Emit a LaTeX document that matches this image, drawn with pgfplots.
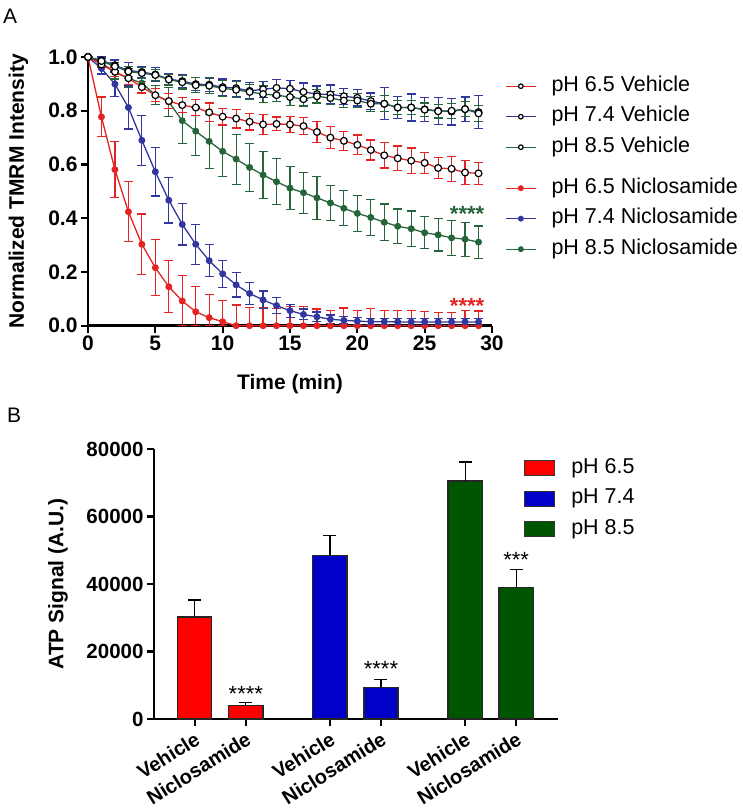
\documentclass[border=0pt]{standalone}
\usepackage{fontspec}
\setmainfont{Liberation Sans}
\usepackage{pgfplots}
\pgfplotsset{compat=1.18}
\definecolor{cR}{RGB}{228,35,35}
\definecolor{cB}{RGB}{50,55,160}
\definecolor{cG}{RGB}{38,100,58}
\definecolor{bR}{RGB}{255,0,0}
\definecolor{bB}{RGB}{0,0,200}
\definecolor{bG}{RGB}{0,85,0}
\newcommand{\fs}[1]{\fontsize{#1}{#1}\selectfont}
\pgfplotsset{
  veh/.style={line width=1.3pt, mark=*, mark size=3.4pt, mark options={solid, fill=white, draw=black, line width=1.2pt}},
  nic/.style={line width=1.3pt, mark=*, mark size=2.8pt, mark options={solid}},
  eb/.style={error bars/y dir=both, error bars/y explicit,
     error bars/error bar style={line width=1.2pt, color=#1},
     error bars/error mark options={rotate=90, mark size=4.5pt, line width=1.2pt, color=#1, draw=#1}},
  lineleg/.style={legend image code/.code={\draw[##1, mark size=2.3pt, mark repeat=2, mark phase=2] plot coordinates {(0pt,0pt) (15pt,0pt) (30pt,0pt)};}},
  boxleg/.style={legend image code/.code={\draw[##1, line width=1pt, draw=black!80] (0pt,-7.5pt) rectangle (30pt,7.5pt);}},
  legA/.style={legend style={at={(axis description cs:1.0322,#1)}, anchor=north west, draw=none, fill=none, font=\fs{21.5}, row sep=12.5pt, inner sep=0pt, nodes={inner sep=0pt, text height=14pt, text depth=4pt}, /tikz/every odd column/.append style={column sep=15pt}}, legend cell align=left},
  geoA/.style={at={(88pt,-325.7pt)}, anchor=south west, scale only axis, width=404pt, height=268.7pt, xmin=0, xmax=30, ymin=0, ymax=1},
}
\begin{document}
\begin{tikzpicture}
\path[use as bounding box] (0pt,0pt) rectangle (743pt,-812pt);
\node[anchor=north west, inner sep=0pt, font=\fs{21}] at (3pt,-9pt) {A};
\node[anchor=north west, inner sep=0pt, font=\fs{21}] at (7pt,-408pt) {B};

% ---------------- Panel A ----------------
\begin{axis}[geoA,
  axis lines=left, axis line style={line width=2.6pt, -},
  xtick={0,5,10,15,20,25,30}, ytick={0,0.2,0.4,0.6,0.8,1.0},
  tick align=outside, major tick length=7pt, tick style={line width=2.2pt, black},
  tick label style={font=\bfseries\fs{21}},
  /pgf/number format/assume math mode=true,
  yticklabel style={/pgf/number format/.cd, fixed, fixed zerofill, precision=1},
  xlabel={Time (min)}, ylabel={Normalized TMRM Intensity},
  label style={font=\bfseries\fs{21}},
  xlabel style={at={(axis description cs:0.5,-0.217)}, anchor=center},
  ylabel style={at={(axis description cs:-0.172,0.5)}, anchor=center},
  clip=false, lineleg, legA=0.9256]

% Niclosamide (drawn first, not in this legend)
\addplot[nic, cR, forget plot, error bars/y dir=both, error bars/y explicit,
     error bars/error bar style={line width=1.2pt, color=cR},
     error bars/error mark options={rotate=90, mark size=4.5pt, line width=1.2pt, color=cR, draw=cR}]
 table[x=t, y=v, y error plus=ep, y error minus=em] {
t v ep em
0 1.000 0 0
1 0.777 0.074 0.074
2 0.581 0.105 0.105
3 0.424 0.112 0.112
4 0.303 0.113 0.113
5 0.216 0.105 0.105
6 0.145 0.097 0.097
7 0.092 0.096 0.092
8 0.052 0.093 0.052
9 0.030 0.087 0.030
10 0.015 0.080 0.015
11 0 0.077 0
12 0 0.068 0
13 0 0.068 0
14 0 0.065 0
15 0 0.070 0
16 0 0.070 0
17 0 0.062 0
18 0 0.058 0
19 0 0.066 0
20 0 0.058 0
21 0 0.064 0
22 0 0.056 0
23 0 0.056 0
24 0 0.058 0
25 0 0.052 0
26 0 0.050 0
27 0 0.050 0
28 0 0.056 0
29 0 0.055 0
};
\addplot[nic, cB, forget plot, eb=cB] table[x=t, y=v, y error=e] {
t v e
0 1.000 0
1 0.957 0.02
2 0.899 0.045
3 0.812 0.08
4 0.690 0.093
5 0.573 0.09
6 0.467 0.085
7 0.377 0.077
8 0.303 0.074
9 0.242 0.06
10 0.193 0.05
11 0.152 0.045
12 0.120 0.04
13 0.096 0.033
14 0.075 0.03
15 0.056 0.024
16 0.042 0.02
17 0.033 0.018
18 0.024 0.016
19 0.020 0.014
20 0.017 0.013
21 0.015 0.012
22 0.015 0.012
23 0.014 0.012
24 0.014 0.012
25 0.014 0.012
26 0.014 0.012
27 0.014 0.012
28 0.014 0.012
29 0.014 0.012
};
\addplot[nic, cG, forget plot, eb=cG] table[x=t, y=v, y error=e] {
t v e
0 1.000 0
1 0.978 0.015
2 0.943 0.025
3 0.921 0.035
4 0.903 0.04
5 0.859 0.035
6 0.833 0.055
7 0.763 0.085
8 0.724 0.09
9 0.686 0.1
10 0.649 0.095
11 0.620 0.093
12 0.589 0.09
13 0.561 0.087
14 0.536 0.085
15 0.512 0.08
16 0.495 0.076
17 0.476 0.08
18 0.457 0.065
19 0.437 0.065
20 0.418 0.068
21 0.403 0.068
22 0.385 0.068
23 0.370 0.064
24 0.361 0.066
25 0.346 0.06
26 0.338 0.06
27 0.327 0.065
28 0.322 0.063
29 0.311 0.06
};

% Vehicles
\addplot[veh, cR, eb=cR] table[x=t, y=v, y error=e] {
t v e
0 1.000 0
1 0.972 0.012
2 0.945 0.018
3 0.921 0.022
4 0.888 0.022
5 0.858 0.025
6 0.836 0.027
7 0.821 0.027
8 0.812 0.03
9 0.794 0.035
10 0.778 0.031
11 0.771 0.035
12 0.759 0.031
13 0.749 0.038
14 0.751 0.026
15 0.749 0.03
16 0.743 0.031
17 0.721 0.04
18 0.700 0.04
19 0.688 0.035
20 0.673 0.037
21 0.654 0.037
22 0.634 0.047
23 0.623 0.046
24 0.614 0.047
25 0.606 0.04
26 0.587 0.04
27 0.584 0.047
28 0.570 0.045
29 0.567 0.04
};
\addlegendentry{pH 6.5 Vehicle}
\addplot[veh, cB, eb=cB] table[x=t, y=v, y error=e] {
t v e
0 1.000 0
1 0.988 0.012
2 0.969 0.02
3 0.950 0.03
4 0.944 0.022
5 0.935 0.025
6 0.918 0.02
7 0.910 0.025
8 0.899 0.025
9 0.897 0.025
10 0.888 0.03
11 0.884 0.03
12 0.874 0.03
13 0.880 0.03
14 0.885 0.03
15 0.882 0.03
16 0.870 0.033
17 0.862 0.03
18 0.861 0.035
19 0.854 0.03
20 0.848 0.03
21 0.836 0.03
22 0.826 0.06
23 0.812 0.04
24 0.812 0.05
25 0.805 0.045
26 0.800 0.05
27 0.797 0.05
28 0.806 0.045
29 0.795 0.062
};
\addlegendentry{pH 7.4 Vehicle}
\addplot[veh, cG, eb=cG] table[x=t, y=v, y error=e] {
t v e
0 1.000 0
1 0.985 0.01
2 0.965 0.015
3 0.946 0.018
4 0.940 0.02
5 0.933 0.02
6 0.916 0.02
7 0.906 0.025
8 0.895 0.028
9 0.893 0.03
10 0.883 0.03
11 0.878 0.03
12 0.870 0.028
13 0.862 0.03
14 0.858 0.025
15 0.851 0.03
16 0.843 0.025
17 0.854 0.025
18 0.847 0.025
19 0.838 0.025
20 0.838 0.025
21 0.826 0.028
22 0.826 0.03
23 0.812 0.025
24 0.812 0.025
25 0.804 0.025
26 0.798 0.025
27 0.800 0.028
28 0.806 0.028
29 0.790 0.03
};
\addlegendentry{pH 8.5 Vehicle}

\node[anchor=base, text=cG, font=\bfseries\fs{22}, inner sep=0pt] at (axis cs:28.15,0.387) {****};
\node[anchor=base, text=cR, font=\bfseries\fs{22}, inner sep=0pt] at (axis cs:28.15,0.046) {****};
\end{axis}

% second legend group for panel A
\begin{axis}[geoA, hide axis, lineleg, legA=0.546]
\addlegendimage{nic, cR}
\addlegendentry{pH 6.5 Niclosamide}
\addlegendimage{nic, cB}
\addlegendentry{pH 7.4 Niclosamide}
\addlegendimage{nic, cG}
\addlegendentry{pH 8.5 Niclosamide}
\end{axis}

% ---------------- Panel B ----------------
\begin{axis}[at={(154pt,-719pt)}, anchor=south west, scale only axis, width=404pt, height=270pt,
  xmin=-0.8, xmax=7.12, ymin=0, ymax=80000,
  axis lines=left, axis line style={line width=2.4pt, -},
  xtick={0,1,2.65,3.65,5.3,6.3},
  xticklabels={Vehicle,Niclosamide,Vehicle,Niclosamide,Vehicle,Niclosamide},
  ytick={0,20000,40000,60000,80000}, scaled y ticks=false,
  tick align=outside, major tick length=7pt, tick style={line width=2.2pt, black},
  tick label style={font=\bfseries\fs{20.5}},
  xticklabel style={rotate=32, anchor=north east, font=\bfseries\fs{20}},
  /pgf/number format/assume math mode=true,
  yticklabel style={/pgf/number format/1000 sep={}},
  ylabel={ATP Signal (A.U.)}, label style={font=\bfseries\fs{21}},
  ylabel style={at={(axis description cs:-0.2376,0.5)}, anchor=center},
  bar width=0.67, clip=false, boxleg,
  legend style={at={(axis description cs:0.916,0.963)}, anchor=north west, draw=none, fill=none, font=\fs{21.5}, row sep=12.5pt, inner sep=0pt, nodes={inner sep=0pt, text height=14pt, text depth=4pt}, /tikz/every odd column/.append style={column sep=16pt}},
  legend cell align=left]
\addplot[ybar, bar shift=0pt, fill=bR, draw=black!85, line width=1.2pt,
   error bars/y dir=plus, error bars/y explicit,
   error bars/error bar style={black, line width=1.3pt},
   error bars/error mark options={rotate=90, black, mark size=6.5pt, line width=1.3pt}]
 table[x=x, y=y, y error=e] {
x y e
0 30200 5100
1 4100 750
};
\addlegendentry{pH 6.5}
\addplot[ybar, bar shift=0pt, fill=bB, draw=black!85, line width=1.2pt,
   error bars/y dir=plus, error bars/y explicit,
   error bars/error bar style={black, line width=1.3pt},
   error bars/error mark options={rotate=90, black, mark size=6.5pt, line width=1.3pt}]
 table[x=x, y=y, y error=e] {
x y e
2.65 48500 5800
3.65 9400 2350
};
\addlegendentry{pH 7.4}
\addplot[ybar, bar shift=0pt, fill=bG, draw=black!85, line width=1.2pt,
   error bars/y dir=plus, error bars/y explicit,
   error bars/error bar style={black, line width=1.3pt},
   error bars/error mark options={rotate=90, black, mark size=6.5pt, line width=1.3pt}]
 table[x=x, y=y, y error=e] {
x y e
5.3 70500 5650
6.3 39000 5350
};
\addlegendentry{pH 8.5}
\node[anchor=base, font=\fs{22}, inner sep=0pt] at (axis cs:1,5200) {****};
\node[anchor=base, font=\fs{22}, inner sep=0pt] at (axis cs:3.65,12500) {****};
\node[anchor=base, font=\fs{22}, inner sep=0pt] at (axis cs:6.3,44800) {***};
\end{axis}
\end{tikzpicture}
\end{document}
